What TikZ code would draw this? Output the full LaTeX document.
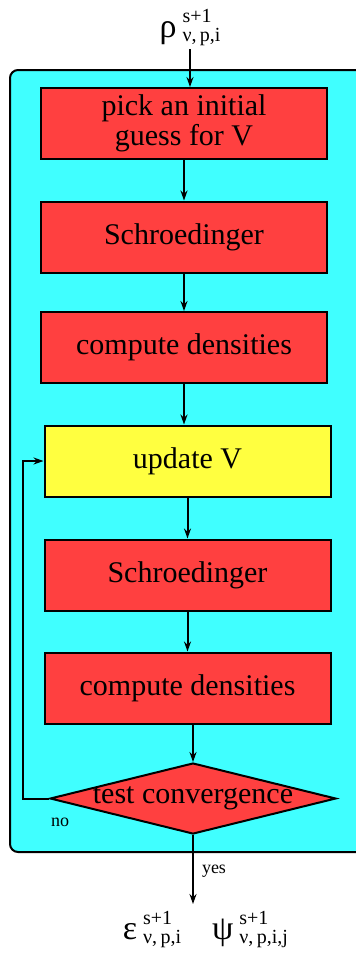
\documentclass[tikz,border=0pt]{standalone}
\usepackage{fontspec}
\setmainfont{Liberation Serif}
\usetikzlibrary{shapes.geometric, arrows.meta}
\definecolor{boxred}{RGB}{255,64,64}
\definecolor{loopcyan}{RGB}{64,255,255}
\definecolor{boxyellow}{RGB}{255,255,64}
\tikzstyle{arrow} = [line width=1pt, -{Stealth[length=5pt, width=3.5pt]}, black]
\newcommand{\outsym}[3]{{\fontsize{17}{17}\selectfont #1}\hspace{3pt}\raisebox{-2pt}{\fontsize{10}{9.5}\selectfont\begin{tabular}[b]{@{}l@{}}#2\\#3\end{tabular}}}

\begin{document}
\begin{tikzpicture}[x=0.5pt, y=-0.5pt,
    stepbox/.style={rectangle, draw=black, line width=1pt, fill=boxred, minimum width=143pt, minimum height=35.5pt, align=center, font=\fontsize{15}{13}\selectfont},
    updatebox/.style={stepbox, fill=boxyellow},
    testbox/.style={diamond, draw=black, line width=1pt, fill=boxred, minimum width=143pt, minimum height=35.5pt, inner sep=0pt},
    small/.style={font=\fontsize{9}{9}\selectfont},
]
\useasboundingbox (0,0) rectangle (356,958);
\clip (0,0) rectangle (356,958);

% Iteration frame
\draw[line width=1pt, fill=loopcyan, rounded corners=4pt] (10,70) rectangle (390,852);

% Input density
\node[inner sep=1pt] (rho) at (190,28) {\outsym{ρ}{s+1}{ν,\,p,i}};

% Steps
\node[stepbox] (guess) at (184,123.5) {pick an initial\\ guess for V};
\node[stepbox] (schr1) at (184,237) {Schroedinger};
\node[stepbox] (dens1) at (184,347.5) {compute densities};
\node[updatebox] (update) at (187.5,461) {update V};
\node[stepbox] (schr2) at (187.5,575) {Schroedinger};
\node[stepbox] (dens2) at (187.5,688) {compute densities};
\node[testbox, label=center:{\fontsize{15}{15}\selectfont test convergence}] (test) at (193,798.5) {};

% Outputs
\node (eps) at (152,930) {\outsym{ε}{s+1}{ν,\,p,i}};
\node (psi) at (250,930) {\outsym{ψ}{s+1}{ν,\,p,i,j}};
\coordinate (out) at (193,904);
\coordinate (loop) at (23,798.5);

% Connectors
\draw[arrow] (rho.south) -- (rho.south |- guess.north);
\draw[arrow] (guess.south) -- (guess.south |- schr1.north);
\draw[arrow] (schr1.south) -- (schr1.south |- dens1.north);
\draw[arrow] (dens1.south) -- (dens1.south |- update.north);
\draw[arrow] (update.south) -- (update.south |- schr2.north);
\draw[arrow] (schr2.south) -- (schr2.south |- dens2.north);
\draw[arrow] (test.north |- dens2.south) -- (test.north);
\draw[arrow] (test.west) -- (loop) |- (update.west);
\draw[arrow] (test.south) -- (out);

% Branch labels
\node[small] (no) at (60,822) {no};
\node[small] (yes) at (214,871) {yes};

\end{tikzpicture}
\end{document}
